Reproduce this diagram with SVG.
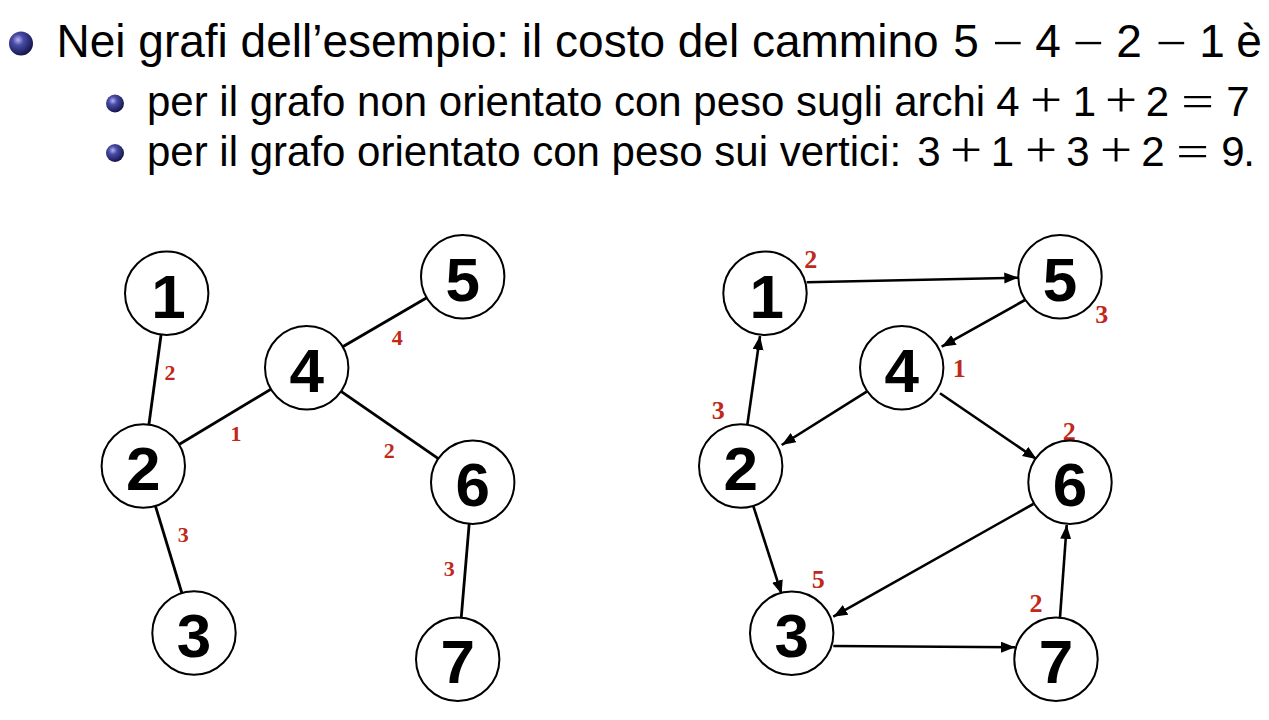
<svg xmlns="http://www.w3.org/2000/svg" width="1269" height="720" viewBox="0 0 1269 720">
<defs>
<radialGradient id="ball" cx="0.38" cy="0.35" r="0.65">
<stop offset="0" stop-color="#b4b6ee"/>
<stop offset="0.35" stop-color="#4a4ca8"/>
<stop offset="1" stop-color="#16164e"/>
</radialGradient>
<marker id="arr" markerUnits="userSpaceOnUse" markerWidth="16" markerHeight="12" refX="14" refY="5.5" orient="auto">
<path d="M0,0 L14,5.5 L0,11 z" fill="#000"/>
</marker>
<style>
.t{font-family:"Liberation Sans",Arial,sans-serif;fill:#000}
.op{font-family:"Liberation Serif","Times New Roman",serif;fill:#000;text-anchor:middle}
.op1{font-size:48px}
.op2{font-size:46px}
.m{text-anchor:middle}
.node circle{fill:#fff;stroke:#000;stroke-width:2}
.node text{font-family:"Liberation Sans",Arial,sans-serif;font-weight:bold;font-size:62px;text-anchor:middle;fill:#000}
.e{stroke:#000;stroke-width:2.8;fill:none}
.d{stroke:#000;stroke-width:2.6;fill:none;marker-end:url(#arr)}
.w{font-family:"Liberation Serif","Times New Roman",serif;font-weight:bold;fill:#c0281a;text-anchor:middle}
.wl{font-size:22px}
.wr{font-size:26px}
</style>
</defs>
<rect width="1269" height="720" fill="#fff"/>

<g id="text">
<circle cx="21" cy="43.5" r="12" fill="url(#ball)"/>
<text class="t" x="56.5" y="57" font-size="46">Nei grafi dell’esempio: il costo del cammino</text>
<text class="t m" x="966" y="57" font-size="46">5</text>
<text class="op op1" transform="translate(1007.5,58.5) scale(1.15,1)">−</text>
<text class="t m" x="1048" y="57" font-size="46">4</text>
<text class="op op1" transform="translate(1088,58.5) scale(1.15,1)">−</text>
<text class="t m" x="1129" y="57" font-size="46">2</text>
<text class="op op1" transform="translate(1171,58.5) scale(1.15,1)">−</text>
<text class="t m" x="1212" y="57" font-size="46">1</text>
<text class="t m" x="1249" y="57" font-size="46">è</text>

<circle cx="115" cy="103.5" r="9" fill="url(#ball)"/>
<text class="t" x="147" y="116" font-size="42">per il grafo non orientato con peso sugli archi</text>
<text class="t m" x="1008" y="116" font-size="42">4</text>
<text class="op op2" transform="translate(1046,117) scale(1.24,1.1)">+</text>
<text class="t m" x="1084.5" y="116" font-size="42">1</text>
<text class="op op2" transform="translate(1121,117) scale(1.24,1.1)">+</text>
<text class="t m" x="1157.5" y="116" font-size="42">2</text>
<text class="op op2" transform="translate(1197.5,117) scale(1.26,1)">=</text>
<text class="t m" x="1238" y="116" font-size="42">7</text>

<circle cx="115" cy="153" r="9" fill="url(#ball)"/>
<text class="t" x="147" y="166" font-size="42">per il grafo orientato con peso sui vertici:</text>
<text class="t m" x="929" y="166" font-size="42">3</text>
<text class="op op2" transform="translate(966,167) scale(1.24,1.1)">+</text>
<text class="t m" x="1002.5" y="166" font-size="42">1</text>
<text class="op op2" transform="translate(1041,167) scale(1.24,1.1)">+</text>
<text class="t m" x="1078" y="166" font-size="42">3</text>
<text class="op op2" transform="translate(1116,167) scale(1.24,1.1)">+</text>
<text class="t m" x="1153" y="166" font-size="42">2</text>
<text class="op op2" transform="translate(1192.5,167) scale(1.26,1)">=</text>
<text class="t m" x="1233" y="166" font-size="42">9</text>
<text class="t m" x="1249" y="166" font-size="42">.</text>
</g>

<g id="connectors">
<line class="e" x1="166.7" y1="293.3" x2="143.3" y2="466"/>
<line class="e" x1="143.3" y1="466" x2="306.7" y2="367.7"/>
<line class="e" x1="306.7" y1="367.7" x2="462.7" y2="276.7"/>
<line class="e" x1="306.7" y1="367.7" x2="472.7" y2="482.3"/>
<line class="e" x1="143.3" y1="466" x2="194" y2="633"/>
<line class="e" x1="472.7" y1="482.3" x2="457.7" y2="659.3"/>

<line class="d" x1="806.7" y1="282.3" x2="1018.3" y2="277.7"/>
<line class="d" x1="1025" y1="300" x2="941.7" y2="346.7"/>
<line class="d" x1="747.3" y1="425" x2="760" y2="336"/>
<line class="d" x1="866.7" y1="391.7" x2="781.7" y2="445"/>
<line class="d" x1="940" y1="393.3" x2="1036.7" y2="459.3"/>
<line class="d" x1="753.3" y1="506" x2="781.7" y2="594.3"/>
<line class="d" x1="1033.3" y1="504" x2="833.3" y2="616.7"/>
<line class="d" x1="833.3" y1="646" x2="1015" y2="647.3"/>
<line class="d" x1="1060" y1="617.3" x2="1066.7" y2="525"/>

<text class="w wl" x="170" y="380">2</text>
<text class="w wl" x="236" y="440.5">1</text>
<text class="w wl" x="397.3" y="344.5">4</text>
<text class="w wl" x="389.3" y="457.5">2</text>
<text class="w wl" x="183.3" y="542">3</text>
<text class="w wl" x="449.3" y="576">3</text>

<text class="w wr" x="810.7" y="268">2</text>
<text class="w wr" x="1101.7" y="323">3</text>
<text class="w wr" x="959.3" y="377">1</text>
<text class="w wr" x="718.3" y="419">3</text>
<text class="w wr" x="1069.3" y="439.5">2</text>
<text class="w wr" x="818.3" y="588">5</text>
<text class="w wr" x="1036" y="611.5">2</text>
</g>

<g id="L1" class="node"><circle cx="166.7" cy="293.3" r="41.7"/><text x="168.5" y="317.5">1</text></g>
<g id="L2" class="node"><circle cx="143.3" cy="466" r="41.7"/><text x="143.3" y="490">2</text></g>
<g id="L3" class="node"><circle cx="194" cy="633" r="41.7"/><text x="194" y="657">3</text></g>
<g id="L4" class="node"><circle cx="306.7" cy="367.7" r="41.7"/><text x="306.7" y="391.7">4</text></g>
<g id="L5" class="node"><circle cx="462.7" cy="276.7" r="41.7"/><text x="462.7" y="300.7">5</text></g>
<g id="L6" class="node"><circle cx="472.7" cy="482.3" r="41.7"/><text x="472.7" y="506.3">6</text></g>
<g id="L7" class="node"><circle cx="457.7" cy="659.3" r="41.7"/><text x="457.7" y="683.3">7</text></g>

<g id="R1" class="node"><circle cx="765" cy="293.3" r="41.7"/><text x="766.8" y="317.5">1</text></g>
<g id="R2" class="node"><circle cx="740.7" cy="466" r="41.7"/><text x="740.7" y="490">2</text></g>
<g id="R3" class="node"><circle cx="791.7" cy="633.3" r="41.7"/><text x="791.7" y="657.3">3</text></g>
<g id="R4" class="node"><circle cx="901.7" cy="367.7" r="41.7"/><text x="901.7" y="391.7">4</text></g>
<g id="R5" class="node"><circle cx="1060" cy="276.7" r="41.7"/><text x="1060" y="300.7">5</text></g>
<g id="R6" class="node"><circle cx="1070" cy="482.3" r="41.7"/><text x="1070" y="506.3">6</text></g>
<g id="R7" class="node"><circle cx="1056" cy="659.3" r="41.7"/><text x="1056" y="683.3">7</text></g>
</svg>
